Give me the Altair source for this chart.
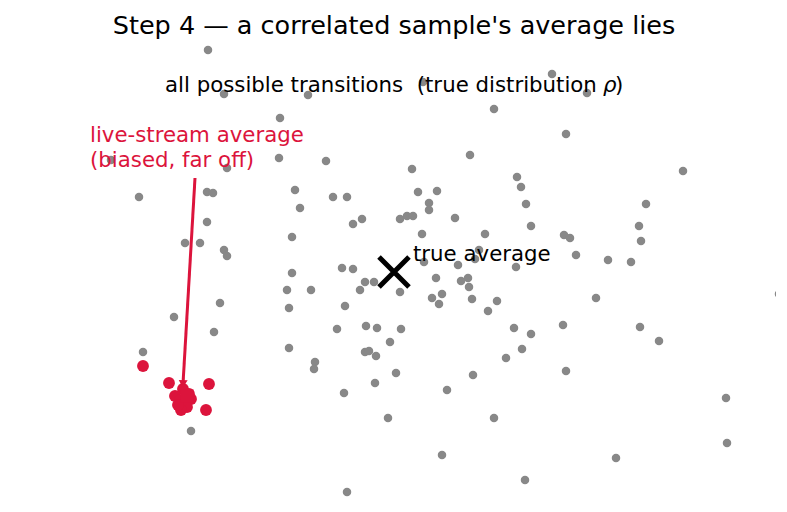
import altair as alt
import pandas as pd

# ---- data (plot units = position in the frame) ----
gray_x = [208, 224, 308, 423, 552, 587, 494, 280, 566, 279, 326, 111, 227, 412, 470, 683, 517, 521,
          139, 207, 213, 295, 333, 347, 418, 437, 300, 429, 429, 526, 646, 207, 362, 353, 400, 407,
          413, 455, 531, 639, 292, 422, 485, 564, 570, 641, 185, 200, 224, 227, 479, 576, 608, 631,
          342, 353, 424, 458, 475, 516, 292, 365, 374, 436, 461, 468, 469, 287, 311, 360, 400, 442,
          432, 439, 472, 220, 289, 345, 497, 488, 596, 779, 174, 214, 337, 366, 377, 401, 390, 514,
          531, 563, 640, 659, 289, 143, 365, 369, 376, 315, 314, 506, 522, 396, 375, 473, 566, 344,
          447, 388, 494, 726, 191, 727, 442, 616, 525, 347]
gray_y = [50, 94, 95, 82, 74, 93, 109, 118, 134, 158, 161, 160, 168, 169, 155, 171, 177, 187,
          197, 192, 193, 190, 197, 197, 192, 191, 208, 203, 210, 204, 204, 222, 219, 224, 219, 216,
          216, 218, 226, 226, 237, 234, 234, 235, 238, 241, 243, 243, 250, 256, 250, 255, 260, 262,
          268, 269, 262, 265, 259, 267, 273, 282, 282, 278, 281, 278, 287, 290, 290, 290, 292, 294,
          298, 304, 299, 303, 308, 306, 301, 311, 298, 294, 317, 332, 329, 326, 328, 329, 342, 328,
          334, 325, 327, 341, 348, 352, 352, 351, 356, 362, 369, 358, 349, 373, 383, 375, 371, 393,
          390, 418, 418, 398, 431, 443, 455, 458, 480, 492]

red_x = [143, 169, 209, 206, 183, 175, 180, 187, 191, 184, 187, 181, 178, 189]
red_y = [366, 383, 384, 410, 389, 396, 400, 397, 399, 404, 407, 410, 405, 394]

live_avg_x = [187]
live_avg_y = [396]

true_avg_x = [394]
true_avg_y = [272]

arrow_x = [195]
arrow_y = [178]
arrow_x2 = [183]
arrow_y2 = [384]

title_text = "Step 4 \u2014 a correlated sample's average lies"
subtitle_parts = ["all possible transitions\u00a0\u00a0(true distribution", "\u03c1", ")"]
live_label = "live-stream average\n(biased, far off)"
true_label = "true average"

W, H = 776, 512
CRIMSON = "#dc143c"
FONT = "DejaVu Sans"
FS = 21.3

xs = alt.Scale(domain=[0, W])
ys = alt.Scale(domain=[0, H], reverse=True)


def enc_xy():
    return dict(x=alt.X("x:Q", scale=xs, axis=None), y=alt.Y("y:Q", scale=ys, axis=None))


gray = alt.Chart(pd.DataFrame({"x": gray_x, "y": gray_y})).mark_circle(
    size=72, color="#888888", opacity=1, clip=True
).encode(**enc_xy())

red = alt.Chart(pd.DataFrame({"x": red_x, "y": red_y})).mark_circle(
    size=140, color=CRIMSON, opacity=1
).encode(**enc_xy())

live_avg = alt.Chart(pd.DataFrame({"x": live_avg_x, "y": live_avg_y})).mark_point(
    shape="square", size=170, filled=True, color=CRIMSON, opacity=1
).encode(**enc_xy())

arrow_df = pd.DataFrame({"x": arrow_x, "y": arrow_y, "x2": arrow_x2, "y2": arrow_y2})
shaft = alt.Chart(arrow_df).mark_rule(color=CRIMSON, strokeWidth=3).encode(
    x=alt.X("x:Q", scale=xs, axis=None), y=alt.Y("y:Q", scale=ys, axis=None),
    x2="x2:Q", y2="y2:Q"
)
head = alt.Chart(arrow_df).mark_point(
    shape="triangle-down", size=80, filled=True, color=CRIMSON, opacity=1, angle=3
).encode(x=alt.X("x2:Q", scale=xs, axis=None), y=alt.Y("y2:Q", scale=ys, axis=None))

true_avg = alt.Chart(pd.DataFrame({"x": true_avg_x, "y": true_avg_y})).mark_point(
    shape="M-1,-1L1,1M-1,1L1,-1", size=900, filled=False, color="black",
    strokeWidth=5, opacity=1
).encode(**enc_xy())

texts = pd.DataFrame({
    "x": [394, 165, 603, 615, 90, 413],
    "y": [34, 92, 92, 92, 141.5, 261],
    "t": [title_text, subtitle_parts[0], subtitle_parts[1], subtitle_parts[2],
          live_label, true_label],
    "kind": ["title", "sub", "subrho", "sub", "live", "true"],
})


def txt(kind, **kw):
    return alt.Chart(texts[texts.kind == kind]).mark_text(
        font=FONT, baseline="alphabetic", **kw
    ).encode(x=alt.X("x:Q", scale=xs, axis=None), y=alt.Y("y:Q", scale=ys, axis=None), text="t:N")


t_title = txt("title", fontSize=25.5, align="center", color="black")
t_sub = txt("sub", fontSize=FS, align="left", color="black")
t_rho = txt("subrho", fontSize=FS, align="left", color="black", fontStyle="italic")
t_live = txt("live", fontSize=FS, align="left", color=CRIMSON, lineBreak="\n", lineHeight=25)
t_true = txt("true", fontSize=FS, align="left", color="black")

chart = alt.layer(
    gray, red, live_avg, shaft, head, true_avg, t_title, t_sub, t_rho, t_live, t_true
).properties(
    width=W, height=H, padding=0, autosize=alt.AutoSizeParams(type="none"),
    background="white"
).configure_view(stroke=None)

chart.save("out.html", embed_options={"renderer": "svg", "actions": False})
